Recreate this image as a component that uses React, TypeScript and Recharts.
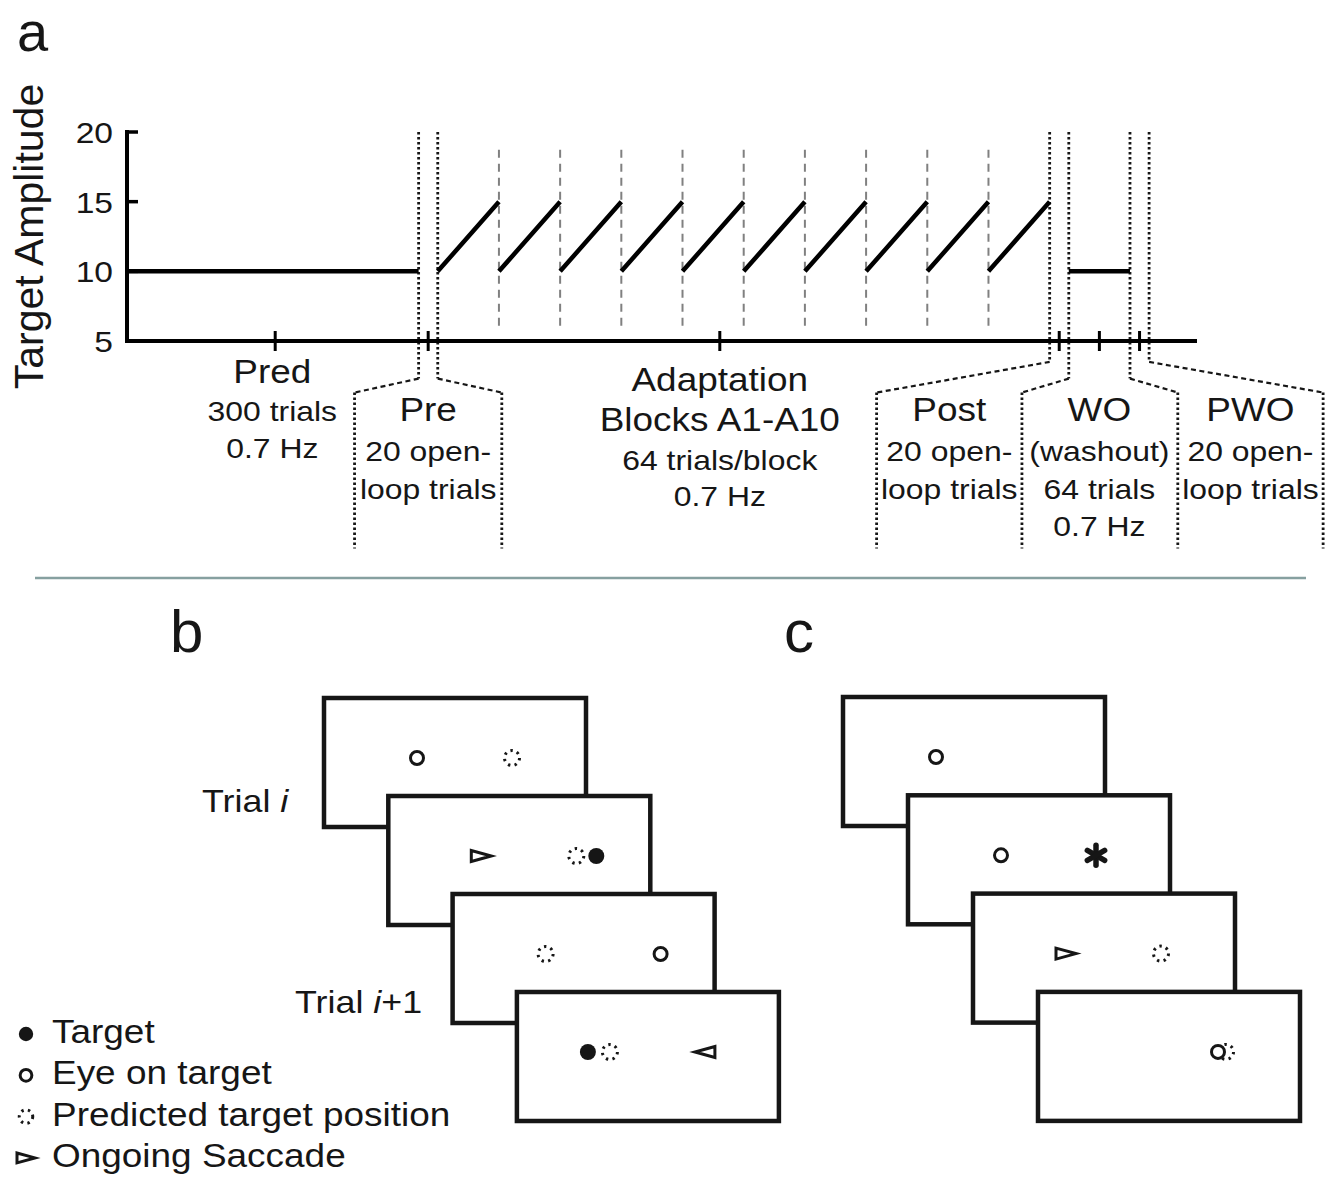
import React from "react";
import { ComposedChart, Line, XAxis, YAxis, ReferenceLine, ReferenceDot } from "recharts";

// amplitude trace: one straight piece per segment, x in trial numbers
const segmentStart = [-5, 320, 384, 448, 512, 576, 640, 704, 768, 832, 896, 980];
const segmentEnd = [300, 384, 448, 512, 576, 640, 704, 768, 832, 896, 960, 1044];
const ampAtStart = [10, 10, 10, 10, 10, 10, 10, 10, 10, 10, 10, 10];
const ampAtEnd = [10, 15, 15, 15, 15, 15, 15, 15, 15, 15, 15, 10];

// phase edges (dotted) and adaptation block edges (dashed)
const phaseEdges = [300, 320, 960, 980, 1044, 1064];
const blockEdges = [384, 448, 512, 576, 640, 704, 768, 832, 896];

const yTicks = [5, 10, 15, 20];
const xTicks = [150, 310, 615, 970, 1012, 1054];

const phaseCaptions = [
  ["Pred", "300 trials", "0.7 Hz"],
  ["Pre", "20 open-", "loop trials"],
  ["Adaptation", "Blocks A1-A10", "64 trials/block", "0.7 Hz"],
  ["Post", "20 open-", "loop trials"],
  ["WO", "(washout)", "64 trials", "0.7 Hz"],
  ["PWO", "20 open-", "loop trials"],
];

// panels b and c: symbols shown on each screen, [kind, slot]
const screensB = [
  [["eye", 1], ["pred", 3]],
  [["saccR", 1], ["pred", 3], ["target", 4]],
  [["pred", 1], ["eye", 4]],
  [["target", 0], ["pred", 1], ["saccL", 3]],
];
const screensC = [
  [["eye", 1]],
  [["eye", 1], ["star", 3]],
  [["saccR", 1], ["pred", 3]],
  [["pred", 3], ["eye", 2]],
];
const legendKinds = ["target", "eye", "pred", "saccR"];
const legendLabels = ["Target", "Eye on target", "Predicted target position", "Ongoing Saccade"];

const INK = "#161616";
const FONT = "'Liberation Sans', Arial, Helvetica, sans-serif";

const trace = segmentStart.flatMap((s, i) => [
  { t: s, amp: ampAtStart[i] },
  { t: segmentEnd[i], amp: ampAtEnd[i] },
  { t: segmentEnd[i], amp: null },
]);

// text slightly widened, like the source artwork
function T({ x, y, size, anchor = "middle", children }: any) {
  return (
    <text
      transform={`translate(${x},${y}) scale(1.12,1)`}
      fontSize={size}
      textAnchor={anchor}
      fill={INK}
      fontFamily={FONT}
    >
      {children}
    </text>
  );
}

const YTick = (props: any) => {
  const { x, y, payload } = props;
  return (
    <g>
      <line x1={x + 14} x2={x + 25} y1={y} y2={y} stroke="#000" strokeWidth={3.5} />
      <T x={x} y={y + 11} size={30} anchor="end">
        {payload.value}
      </T>
    </g>
  );
};

const XTick = (props: any) => {
  const { x, y } = props;
  return <line x1={x} x2={x} y1={y - 10} y2={y + 10} stroke="#000" strokeWidth={3} />;
};

function Caption({ viewBox, lines, offsets, big }: any) {
  const cx = viewBox.x + viewBox.width / 2;
  const cy = viewBox.y + viewBox.height / 2;
  return (
    <g>
      {lines.map((s: string, i: number) => (
        <T key={i} x={cx} y={cy + offsets[i]} size={i < big ? 33 : 28.5}>
          {s}
        </T>
      ))}
    </g>
  );
}

// layout for captions and brackets (in axis units)
const captionAt = [147, 310, 615, 855, 1012, 1170];
const captionOffsets = [
  [42, 80, 117],
  [80, 120, 158],
  [50, 90, 129, 165],
  [80, 120, 158],
  [80, 120, 158, 195],
  [80, 120, 158],
];
const captionBig = [1, 1, 2, 1, 1, 1];
const bracketOuter = [233, 387, 779, 931, 1094, 1246];
const bracketElbow = [2.3, 2.3, 3.5, 2.3, 2.3, 3.5];
const SHOULDER = 1.3;
const FLOOR = -9.9;

function Symbol({ kind, x, y, k = 1 }: any) {
  if (kind === "target") return <circle cx={x} cy={y} r={8 * k} fill={INK} />;
  if (kind === "eye")
    return <circle cx={x} cy={y} r={6.5 * k} fill="#fff" stroke={INK} strokeWidth={3} />;
  if (kind === "pred")
    return (
      <circle cx={x} cy={y} r={7.5 * k} fill="none" stroke={INK} strokeWidth={3} strokeDasharray="2.4 4.3" />
    );
  if (kind === "saccR" || kind === "saccL") {
    const d = kind === "saccR" ? 1 : -1;
    const w = 10 * k;
    const h = 5.5 * k;
    return (
      <polygon
        points={`${x - d * w},${y - h} ${x - d * w},${y + h} ${x + d * w},${y}`}
        fill="#fff"
        stroke={INK}
        strokeWidth={3}
      />
    );
  }
  // asterisk
  return (
    <g stroke={INK} strokeWidth={5.5} strokeLinecap="round">
      {[90, 30, 150].map((a) => {
        const r = (a * Math.PI) / 180;
        const dx = Math.cos(r) * 10;
        const dy = Math.sin(r) * 10;
        return <line key={a} x1={x - dx} y1={y - dy} x2={x + dx} y2={y + dy} />;
      })}
    </g>
  );
}

const SLOT_X = [71, 93, 180, 188, 208];

function Screens({ screens, left, top, stepX, stepY }: any) {
  return (
    <g>
      {screens.map((items: any[], i: number) => {
        const fx = left + i * stepX;
        const fy = top + i * stepY;
        return (
          <g key={i}>
            <rect x={fx} y={fy} width={262} height={129} fill="#fff" stroke={INK} strokeWidth={4.5} />
            {items.map(([kind, slot]: any, j: number) => (
              <Symbol key={j} kind={kind} x={fx + SLOT_X[slot]} y={fy + 60} />
            ))}
          </g>
        );
      })}
    </g>
  );
}

export default function App() {
  const dotted = { stroke: INK, strokeWidth: 2.8, strokeDasharray: "2.5 2.5" };
  const dashed = { stroke: INK, strokeWidth: 2.2, strokeDasharray: "5 3.5" };
  return (
    <div
      style={{
        position: "absolute",
        left: 0,
        top: 0,
        width: 1342,
        height: 1178,
        background: "#fff",
        overflow: "hidden",
        fontFamily: FONT,
      }}
    >
      <ComposedChart
        width={1342}
        height={570}
        data={trace}
        margin={{ top: 132, right: 147, bottom: 199, left: 67 }}
      >
        <XAxis
          dataKey="t"
          type="number"
          domain={[-5, 1112]}
          ticks={xTicks}
          interval={0}
          tickLine={false}
          tickSize={0}
          tickMargin={0}
          tick={<XTick />}
          axisLine={{ stroke: "#000", strokeWidth: 4, strokeLinecap: "square" }}
          allowDataOverflow
        />
        <YAxis
          type="number"
          domain={[5, 20]}
          ticks={yTicks}
          interval={0}
          width={60}
          tickLine={false}
          tickSize={0}
          tickMargin={14}
          tick={<YTick />}
          axisLine={{ stroke: "#000", strokeWidth: 4, strokeLinecap: "square" }}
          allowDataOverflow
          label={{
            content: (p: any) => {
              const vb = p.viewBox;
              const cy = vb.y + vb.height / 2;
              return (
                <text
                  transform={`translate(43,${cy}) rotate(-90)`}
                  textAnchor="middle"
                  fontSize={41}
                  fill={INK}
                  fontFamily={FONT}
                >
                  Target Amplitude
                </text>
              );
            },
          }}
        />
        {blockEdges.map((b) => (
          <ReferenceLine
            key={`blk${b}`}
            segment={[
              { x: b, y: 6.1 },
              { x: b, y: 18.9 },
            ]}
            stroke="#808080"
            strokeWidth={2}
            strokeDasharray="8 6"
            ifOverflow="visible"
          />
        ))}
        {phaseEdges.map((e, i) => (
          <ReferenceLine
            key={`pv${i}`}
            segment={[
              { x: e, y: 20 },
              { x: e, y: bracketElbow[i] },
            ]}
            {...dotted}
            ifOverflow="visible"
          />
        ))}
        {phaseEdges.map((e, i) => (
          <ReferenceLine
            key={`pd${i}`}
            segment={[
              { x: e, y: bracketElbow[i] },
              { x: bracketOuter[i], y: SHOULDER },
            ]}
            {...dashed}
            ifOverflow="visible"
          />
        ))}
        {bracketOuter.map((o, i) => (
          <ReferenceLine
            key={`po${i}`}
            segment={[
              { x: o, y: SHOULDER },
              { x: o, y: FLOOR },
            ]}
            {...dotted}
            ifOverflow="visible"
          />
        ))}
        <Line
          dataKey="amp"
          type="linear"
          stroke="#000"
          strokeWidth={4.5}
          dot={false}
          activeDot={false}
          connectNulls={false}
          isAnimationActive={false}
        />
        {phaseCaptions.map((lines, i) => (
          <ReferenceDot
            key={`cap${i}`}
            x={captionAt[i]}
            y={5}
            r={0}
            fill="none"
            stroke="none"
            ifOverflow="visible"
            label={{
              content: (p: any) => (
                <Caption viewBox={p.viewBox} lines={lines} offsets={captionOffsets[i]} big={captionBig[i]} />
              ),
            }}
          />
        ))}
      </ComposedChart>

      <svg
        width={1342}
        height={1178}
        style={{ position: "absolute", left: 0, top: 0, pointerEvents: "none" }}
      >
        <text x={17} y={51} fontSize={56} fill={INK} fontFamily={FONT}>
          a
        </text>
        <line x1={35} x2={1306} y1={578} y2={578} stroke="#86a0a0" strokeWidth={2.5} />
        <text x={170} y={652} fontSize={60} fill={INK} fontFamily={FONT}>
          b
        </text>
        <text x={784} y={652} fontSize={60} fill={INK} fontFamily={FONT}>
          c
        </text>

        <Screens screens={screensB} left={324} top={698} stepX={64.3} stepY={98} />
        <Screens screens={screensC} left={843} top={697} stepX={65} stepY={98.3} />

        <T x={202} y={812} size={32} anchor="start">
          <tspan>Trial </tspan>
          <tspan fontStyle="italic">i</tspan>
        </T>
        <T x={295} y={1013} size={32} anchor="start">
          <tspan>Trial </tspan>
          <tspan fontStyle="italic">i</tspan>
          <tspan>+1</tspan>
        </T>

        {legendLabels.map((label, i) => (
          <g key={label}>
            <Symbol kind={legendKinds[i]} x={26} y={1034 + i * 41.3} k={0.9} />
            <T x={52} y={1043 + i * 41.3} size={33} anchor="start">
              {label}
            </T>
          </g>
        ))}
      </svg>
    </div>
  );
}
